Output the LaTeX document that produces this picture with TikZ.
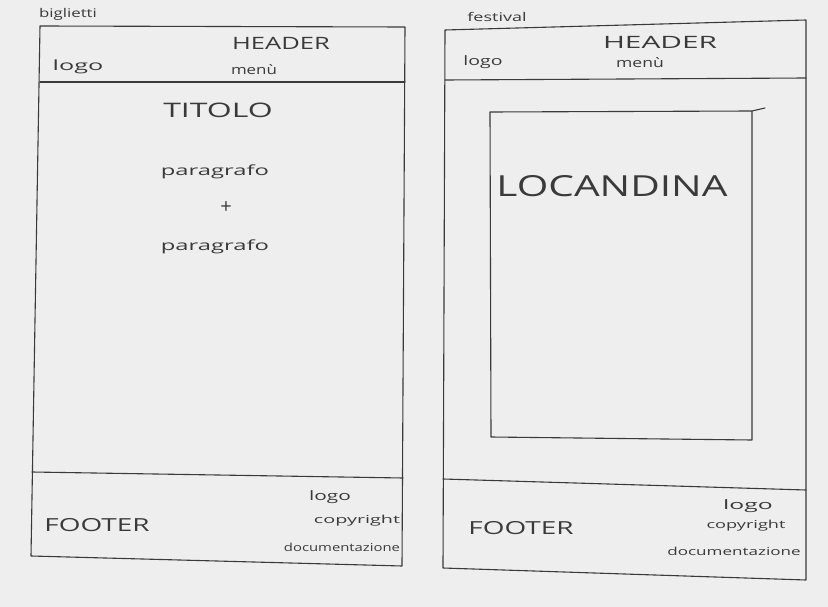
\documentclass[tikz,border=0pt]{standalone}
\usepackage{fontspec}
\setmainfont{Open Sans}
% hand-lettering is wider than it is tall: stretch a word horizontally
\newcommand\widetext[2]{\scalebox{#1}[1]{#2}}
\begin{document}
\begin{tikzpicture}[x=1pt,y=-1pt,
  pen/.style={draw=ink,line width=1.1pt,line cap=round,line join=round},
  label/.style={text=ink,inner sep=0pt,font=\fontsize{#1}{#1}\selectfont},
  label/.default=13]
\definecolor{paper}{HTML}{EEEEEE}
\definecolor{ink}{HTML}{3A3A3A}
\fill[paper] (0,0) rectangle (828,607);
\useasboundingbox (0,0) rectangle (828,607);

% ---- page "biglietti" ----
\coordinate (bTL) at (40,26);  \coordinate (bTR) at (405,27);
\coordinate (bBR) at (402,566); \coordinate (bBL) at (31,556);
\coordinate (bH1) at (40,82);  \coordinate (bH2) at (405,82);
\coordinate (bF1) at (32,472); \coordinate (bF2) at (403,478);
\draw[pen] (bTL) -- (bTR) -- (bBR) -- (bBL) -- cycle;
\draw[pen] (bH1) -- (bH2);
\draw[pen] (bF1) -- (bF2);

\node[label=12] (bName) at (68,14) {\widetext{1.4}{biglietti}};
\node[label=17] (bHeader) at (281,43) {\widetext{1.5}{HEADER}};
\node[label=14] (bLogo) at (78,67) {\widetext{1.8}{logo}};
\node[label=13] (bMenu) at (254,70) {\widetext{1.3}{menù}};
\node[label=20] (bTitle) at (218,110) {\widetext{1.6}{TITOLO}};
\node[label=14] (bPar1) at (215,172) {\widetext{1.7}{paragrafo}};
\node[label=20] (bPlus) at (226,208) {+};
\node[label=14] (bPar2) at (215,247) {\widetext{1.7}{paragrafo}};
\node[label=18] (bFooter) at (97,525) {\widetext{1.55}{FOOTER}};
\node[label=13] (bfLogo) at (330,497) {\widetext{1.6}{logo}};
\node[label=11] (bfCopy) at (357,521) {\widetext{1.8}{copyright}};
\node[label=11] (bfDoc) at (342,547) {\widetext{1.35}{documentazione}};

% ---- page "festival" ----
\coordinate (fTL) at (445,30);  \coordinate (fTR) at (806,20);
\coordinate (fBR) at (806,580); \coordinate (fBL) at (443,568);
\coordinate (fH1) at (445,80);  \coordinate (fH2) at (806,78);
\coordinate (fF1) at (443,479); \coordinate (fF2) at (806,490);
\draw[pen] (fTL) -- (fTR) -- (fBR) -- (fBL) -- cycle;
\draw[pen] (fH1) -- (fH2);
\draw[pen] (fF1) -- (fF2);

% poster box
\coordinate (pTL) at (490,112); \coordinate (pTR) at (752,111);
\coordinate (pBR) at (752,440); \coordinate (pBL) at (491,437);
\coordinate (pTick) at (765,108);
\draw[pen] (pTick) -- (pTR) -- (pTL) -- (pBL) -- (pBR) -- (pTR);

\node[label=12] (fName) at (497,17) {\widetext{1.5}{festival}};
\node[label=17] (fHeader) at (660,42) {\widetext{1.75}{HEADER}};
\node[label=13] (fLogo) at (483,62) {\widetext{1.5}{logo}};
\node[label=13] (fMenu) at (640,63) {\widetext{1.35}{menù}};
\node[label=29] (fPoster) at (612,186) {\widetext{1.4}{LOCANDINA}};
\node[label=18] (fFooter) at (521,528) {\widetext{1.55}{FOOTER}};
\node[label=13] (ffLogo) at (748,506) {\widetext{1.9}{logo}};
\node[label=11] (ffCopy) at (746,526) {\widetext{1.65}{copyright}};
\node[label=11] (ffDoc) at (734,551) {\widetext{1.55}{documentazione}};
\end{tikzpicture}
\end{document}
